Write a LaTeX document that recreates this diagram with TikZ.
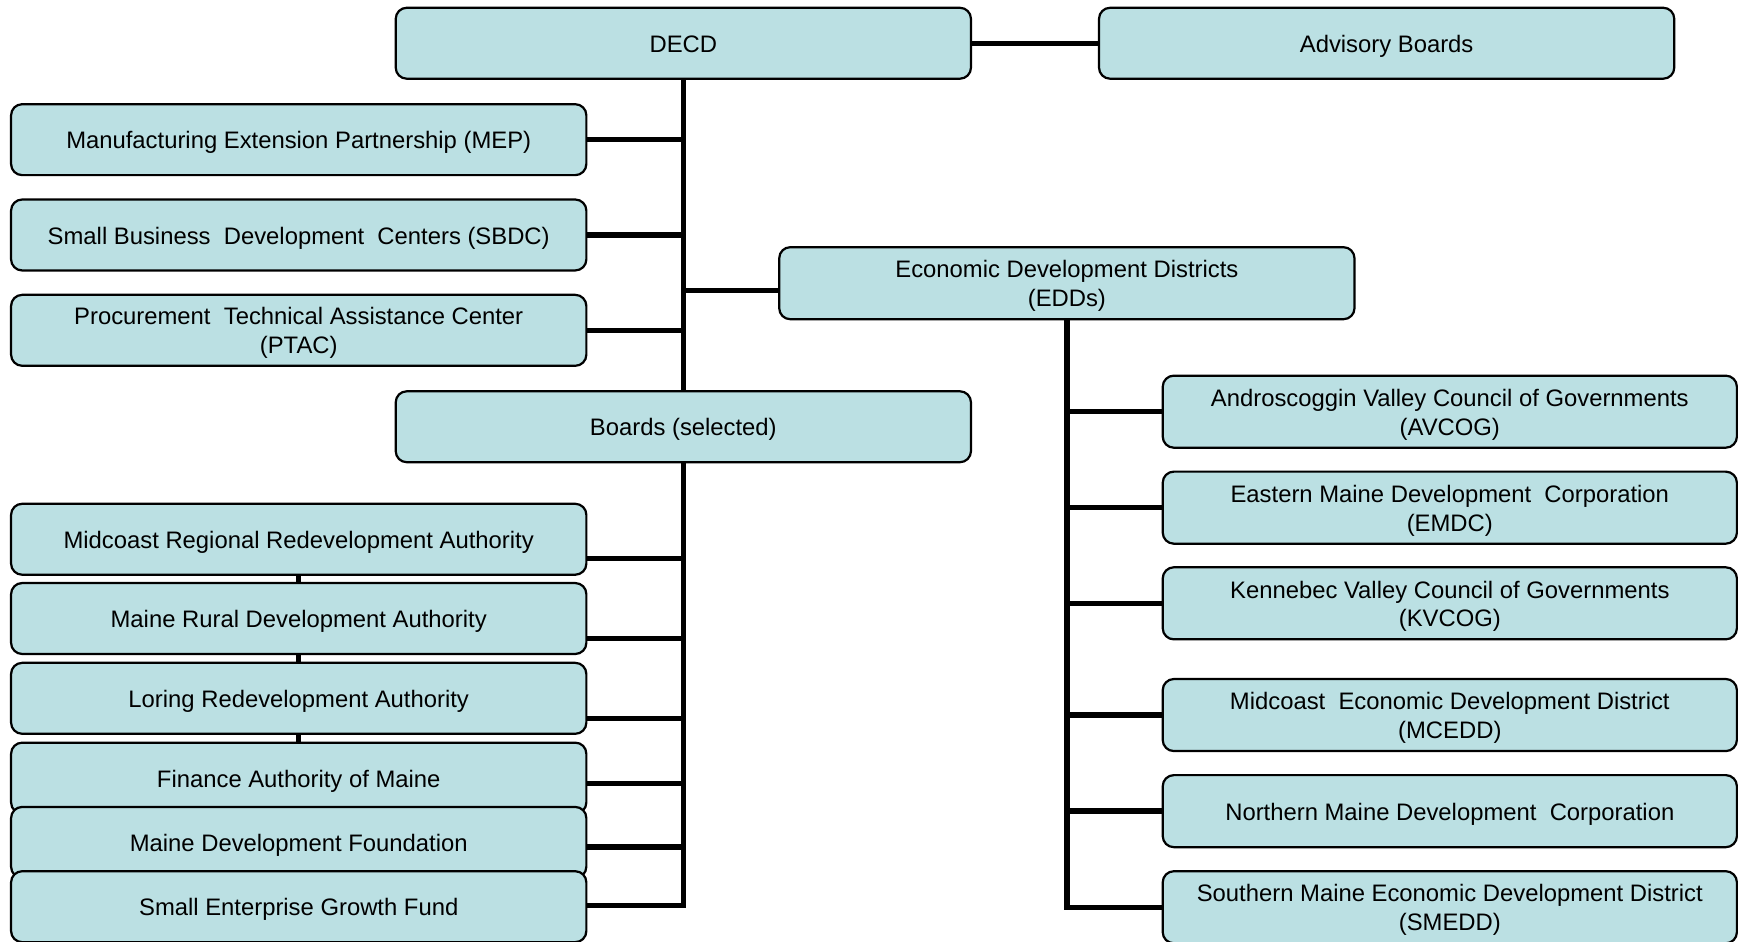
\documentclass[tikz,border=0pt]{standalone}
\usepackage{fontspec}
\setmainfont{Liberation Sans}
\usetikzlibrary{backgrounds}
\definecolor{boxfill}{HTML}{BBE0E3}
\newcommand\orgtxt[1]{\raisebox{-3pt}[\height][\depth]{\begin{tabular}{@{}c@{}}#1\end{tabular}}}
\begin{document}
\begin{tikzpicture}[x=1pt,y=-1pt,
  orgbox/.style={draw=black, line width=2pt, fill=boxfill, rounded corners=10pt,
    minimum width=519pt, minimum height=64pt, inner sep=0pt,
    font=\fontsize{21.5}{26}\selectfont},
  link/.style={draw=black, line width=4.8pt}]
\useasboundingbox (0,0) rectangle (1568,849);
% top level
\node[orgbox] (decd) at (616.5,39) {\orgtxt{DECD}};
\node[orgbox] (adv) at (1251,39) {\orgtxt{Advisory Boards}};
\node[orgbox] (mep) at (269.5,126) {\orgtxt{Manufacturing Extension Partnership (MEP)}};
\node[orgbox] (sbdc) at (269.5,212) {\orgtxt{Small Business\ \ Development\ \ Centers (SBDC)}};
\node[orgbox] (ptac) at (269.5,298) {\orgtxt{Procurement\ \ Technical Assistance Center\\(PTAC)}};
\node[orgbox, minimum height=65pt] (edd) at (962.5,255.5) {\orgtxt{Economic Development Districts\\(EDDs)}};
\node[orgbox] (boards) at (616.5,385) {\orgtxt{Boards (selected)}};
% boards
\node[orgbox] (mra) at (269.5,486.5) {\orgtxt{Midcoast Regional Redevelopment Authority}};
\node[orgbox] (mrda) at (269.5,558) {\orgtxt{Maine Rural Development Authority}};
\node[orgbox] (lra) at (269.5,630) {\orgtxt{Loring Redevelopment Authority}};
\node[orgbox] (fam) at (269.5,702) {\orgtxt{Finance Authority of Maine}};
\node[orgbox] (mdf) at (269.5,760) {\orgtxt{Maine Development Foundation}};
\node[orgbox] (segf) at (269.5,818) {\orgtxt{Small Enterprise Growth Fund}};
% EDDs
\node[orgbox, minimum width=518pt, minimum height=65pt] (avcog) at (1308,371.4) {\orgtxt{Androscoggin Valley Council of Governments\\(AVCOG)}};
\node[orgbox, minimum width=518pt, minimum height=65pt] (emdc) at (1308,458) {\orgtxt{Eastern Maine Development\ \ Corporation\\(EMDC)}};
\node[orgbox, minimum width=518pt, minimum height=65pt] (kvcog) at (1308,544.3) {\orgtxt{Kennebec Valley Council of Governments\\(KVCOG)}};
\node[orgbox, minimum width=518pt, minimum height=65pt] (mcedd) at (1308,645.1) {\orgtxt{Midcoast\ \ Economic Development District\\(MCEDD)}};
\node[orgbox, minimum width=518pt, minimum height=65pt] (nmdc) at (1308,731.8) {\orgtxt{Northern Maine Development\ \ Corporation}};
\node[orgbox, minimum width=518pt, minimum height=65pt] (smedd) at (1308,818.5) {\orgtxt{Southern Maine Economic Development District\\(SMEDD)}};
\coordinate (spine) at (616.5,0);
\coordinate (eddspine) at (962.5,0);
\coordinate (pedd) at ([yshift=-6.5pt]edd.west);
\coordinate (pmra) at ([yshift=-17.5pt]mra.east);
\coordinate (pmrda) at ([yshift=-18pt]mrda.east);
\coordinate (plra) at ([yshift=-18pt]lra.east);
\coordinate (pfam) at ([yshift=-5pt]fam.east);
\coordinate (pmdf) at ([yshift=-4pt]mdf.east);
\coordinate (psegf) at ([yshift=1pt]segf.east);
\begin{scope}[on background layer]
\draw[link] (decd.east) -- (adv.west);
\draw[link] (decd.south) -- (boards.north);
\draw[link] (mep.east) -- (spine |- mep.east);
\draw[link] (sbdc.east) -- (spine |- sbdc.east);
\draw[link] (ptac.east) -- (spine |- ptac.east);
\draw[link] (pedd) -- (spine |- pedd);
% boards branches
\draw[link, line join=miter] (boards.south) |- (psegf);
\draw[link] (pmra) -- (spine |- pmra);
\draw[link] (pmrda) -- (spine |- pmrda);
\draw[link] (plra) -- (spine |- plra);
\draw[link] (pfam) -- (spine |- pfam);
\draw[link] (pmdf) -- (spine |- pmdf);
\draw[link] (mra.south) -- (mrda.north);
\draw[link] (mrda.south) -- (lra.north);
\draw[link] (lra.south) -- (fam.north);
% EDD branches
\draw[link, line join=miter] (edd.south) |- (smedd.west);
\draw[link] (avcog.west) -- (eddspine |- avcog.west);
\draw[link] (emdc.west) -- (eddspine |- emdc.west);
\draw[link] (kvcog.west) -- (eddspine |- kvcog.west);
\draw[link] (mcedd.west) -- (eddspine |- mcedd.west);
\draw[link] (nmdc.west) -- (eddspine |- nmdc.west);
\end{scope}
\end{tikzpicture}
\end{document}
